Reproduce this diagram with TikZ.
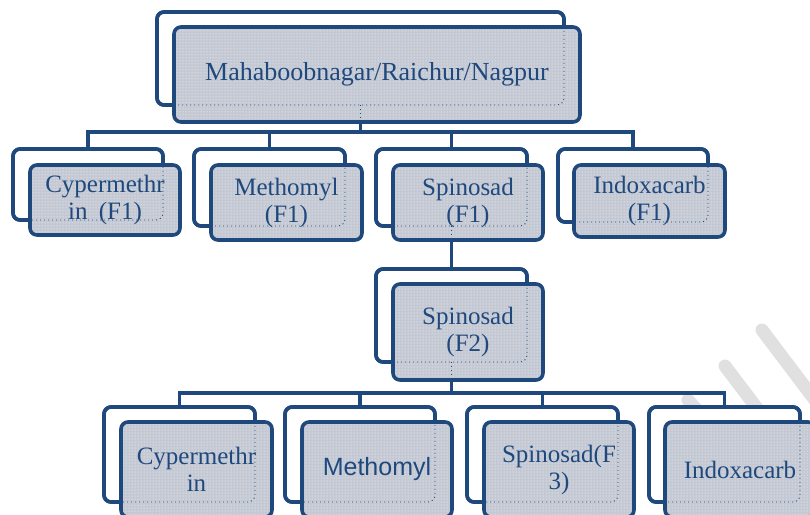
\documentclass[tikz,border=0pt]{standalone}
\usepackage{fontspec}
\setmainfont{Liberation Serif}
\newfontfamily\sansf{Liberation Sans}
\usetikzlibrary{patterns}
\definecolor{navy}{HTML}{1F497D}
\definecolor{boxgray}{HTML}{C3C8D3}
\definecolor{wmgray}{HTML}{E0E0E0}
\tikzset{
  backframe/.style={draw=navy, line width=3.6pt, fill=white, rounded corners=7pt,
    inner sep=0pt, outer sep=0pt},
  frontbox/.style={draw=navy, line width=3.6pt, rounded corners=7pt,
    preaction={fill=boxgray}, pattern=dots, pattern color=white,
    inner sep=0pt, outer sep=0pt, text=navy, align=center,
    font=\fontsize{25}{27}\selectfont},
  conn/.style={draw=navy, line width=3.6pt},
  hiddenline/.style={draw=navy, line width=0.9pt, dash pattern=on 1pt off 3pt},
  wmstripe/.style={draw=wmgray, line width=13pt, line cap=round},
}
\newcommand\seethrough[2]{%
  \begin{scope}
    \clip[rounded corners=5pt] ([shift={(1.8pt,-1.8pt)}]#2.north west) rectangle ([shift={(-1.8pt,1.8pt)}]#2.south east);
    \draw[hiddenline, rounded corners=7pt] (#1.north west) rectangle (#1.south east);
  \end{scope}}
\begin{document}
\begin{tikzpicture}[x=1pt, y=-1pt]
\useasboundingbox (0,0) rectangle (810,514);
\clip (0,0) rectangle (810,514);
% watermark
\coordinate (wa1) at (762,330); \coordinate (wa2) at (830,420);
\coordinate (wb1) at (725,366); \coordinate (wb2) at (800,465);
\coordinate (wc1) at (688,400); \coordinate (wc2) at (760,480);
\draw[wmstripe] (wa1) -- (wa2);
\draw[wmstripe] (wb1) -- (wb2);
\draw[wmstripe] (wc1) -- (wc2);

% helper coordinates for the bars
\coordinate (bar1) at (0,132);
\coordinate (bar2) at (0,393);

% top
\node[backframe, minimum width=407pt, minimum height=93pt] (t0b) at (360.5,58.5) {};
% row 1 back frames
\node[backframe, minimum width=150pt, minimum height=71pt] (c1b) at (88,184.5) {};
\node[backframe, minimum width=151pt, minimum height=77pt] (m1b) at (269.5,187.5) {};
\node[backframe, minimum width=151pt, minimum height=77pt] (s1b) at (451.5,187.5) {};
\node[backframe, minimum width=150pt, minimum height=73pt] (i1b) at (633,185.5) {};
% row 2
\node[backframe, minimum width=151pt, minimum height=93pt] (s2b) at (451.5,315.5) {};
% row 3
\node[backframe, minimum width=151pt, minimum height=95pt] (c3b) at (179.5,454.5) {};
\node[backframe, minimum width=150pt, minimum height=95pt] (m3b) at (360,454.5) {};
\node[backframe, minimum width=151pt, minimum height=95pt] (s3b) at (542.5,454.5) {};
\node[backframe, minimum width=151pt, minimum height=95pt] (i3b) at (724.5,454.5) {};

% connectors
\draw[conn] (t0b.south) -- (t0b.south |- bar1);
\draw[conn] (c1b.north) -- (c1b.north |- bar1) -- (i1b.north |- bar1) -- (i1b.north);
\draw[conn] (m1b.north) -- (m1b.north |- bar1);
\draw[conn] (s1b.north) -- (s1b.north |- bar1);
\draw[conn] (s1b.south) -- (s2b.north);
\draw[conn] (s2b.south) -- (s2b.south |- bar2);
\draw[conn] (c3b.north) -- (c3b.north |- bar2) -- (i3b.north |- bar2) -- (i3b.north);
\draw[conn] (m3b.north) -- (m3b.north |- bar2);
\draw[conn] (s3b.north) -- (s3b.north |- bar2);

% redraw back frames above connectors
\foreach \n in {t0b,c1b,m1b,s1b,i1b,s2b,c3b,m3b,s3b,i3b}{
  \draw[navy, line width=3.6pt, rounded corners=7pt] (\n.north west) rectangle (\n.south east);
}

% front boxes
\node[frontbox, minimum width=406pt, minimum height=95pt, font=\fontsize{26}{28}\selectfont] (t0f) at (377,74.5) {Mahaboobnagar/Raichur/Nagpur};
\node[frontbox, minimum width=150pt, minimum height=70pt] (c1f) at (105,200) {Cypermethr\\in\hspace{0.45em}(F1)};
\node[frontbox, minimum width=151pt, minimum height=75pt] (m1f) at (286.5,202.5) {Methomyl\\(F1)};
\node[frontbox, minimum width=150pt, minimum height=75pt] (s1f) at (468,202.5) {Spinosad\\(F1)};
\node[frontbox, minimum width=151pt, minimum height=72pt] (i1f) at (649.5,201) {Indoxacarb\\(F1)};
\node[frontbox, minimum width=150pt, minimum height=96pt] (s2f) at (468,332) {Spinosad\\(F2)};
\node[frontbox, minimum width=151pt, minimum height=95pt] (c3f) at (196.5,469.5) {Cypermethr\\in};
\node[frontbox, minimum width=150pt, minimum height=95pt] (m3f) at (377,469.5) {{\sansf Methomyl}};
\node[frontbox, minimum width=150pt, minimum height=95pt] (s3f) at (559,469.5) {Spinosad(F\\3)};
\node[frontbox, minimum width=150pt, minimum height=95pt] (i3f) at (740,469.5) {Indoxacarb};

% see-through outlines
\seethrough{t0b}{t0f}
\seethrough{c1b}{c1f}
\seethrough{m1b}{m1f}
\seethrough{s1b}{s1f}
\seethrough{i1b}{i1f}
\seethrough{s2b}{s2f}
\seethrough{c3b}{c3f}
\seethrough{m3b}{m3f}
\seethrough{s3b}{s3f}
\seethrough{i3b}{i3f}
\begin{scope}
  \clip ([shift={(1.8pt,-1.8pt)}]t0f.north west) rectangle ([shift={(-1.8pt,1.8pt)}]t0f.south east);
  \draw[hiddenline] (t0b.south) -- (t0b.south |- t0f.south);
\end{scope}
\begin{scope}
  \clip ([shift={(1.8pt,-1.8pt)}]s1f.north west) rectangle ([shift={(-1.8pt,1.8pt)}]s1f.south east);
  \draw[hiddenline] (s1b.south) -- (s1b.south |- s1f.south);
\end{scope}
\begin{scope}
  \clip ([shift={(1.8pt,-1.8pt)}]s2f.north west) rectangle ([shift={(-1.8pt,1.8pt)}]s2f.south east);
  \draw[hiddenline] (s2b.south) -- (s2b.south |- s2f.south);
\end{scope}
\end{tikzpicture}
\end{document}
